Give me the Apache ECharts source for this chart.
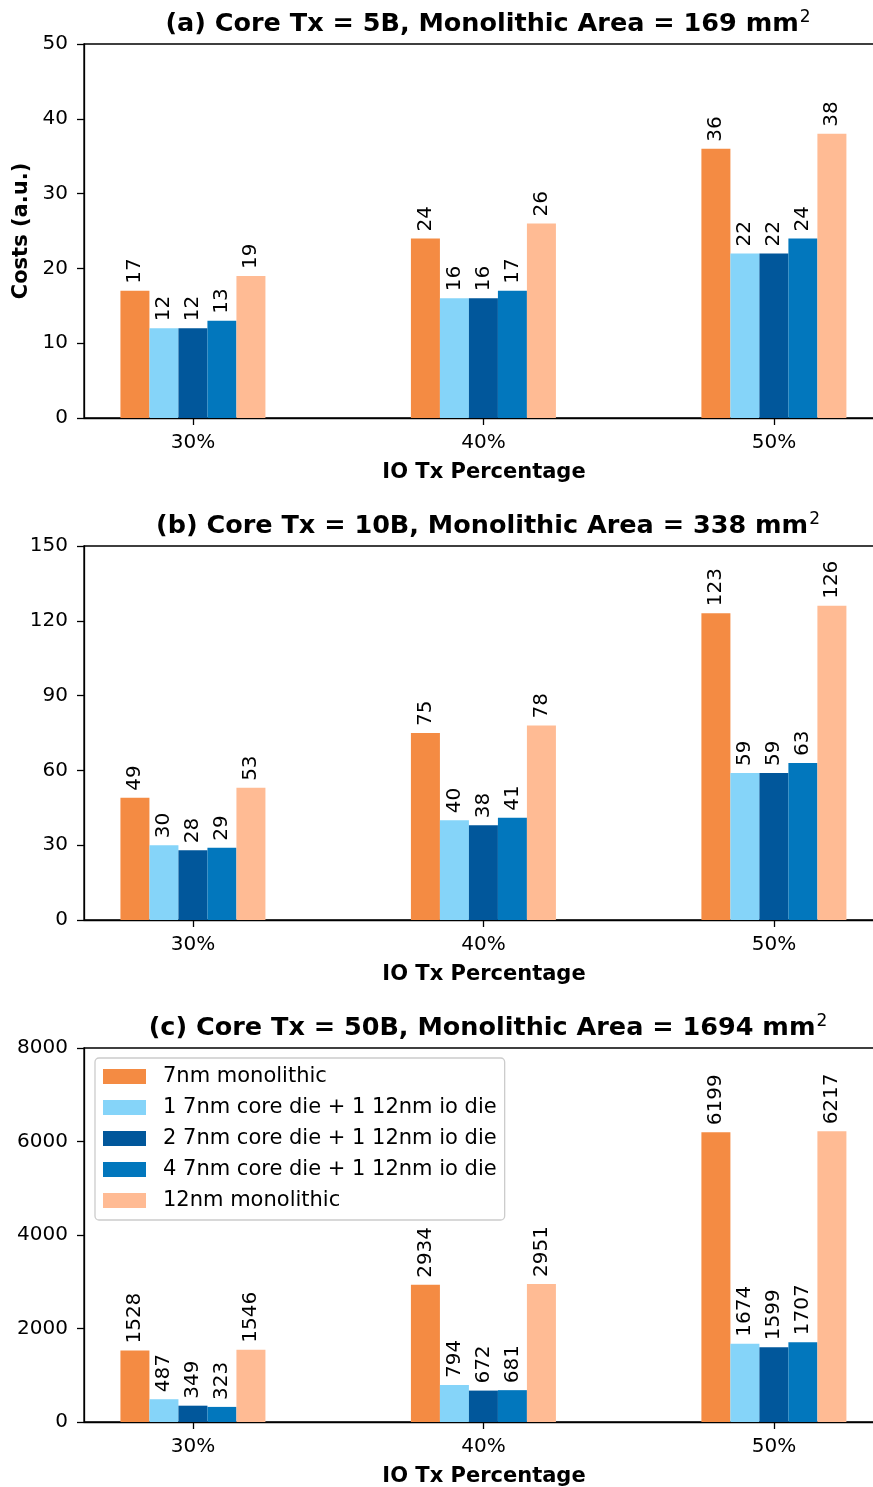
<!DOCTYPE html>
<html>
<head>
<meta charset="utf-8">
<script src="https://cdn.jsdelivr.net/npm/echarts@6/dist/echarts.min.js"></script>
<style>
  html, body { margin: 0; padding: 0; background: #fff; }
  #chart { width: 873px; height: 1487px; }
</style>
</head>
<body>
<div id="chart"></div>
<script>
// IO transistor share on the x axis
const categories = ['30%', '40%', '50%'];

// Design options, one bar per option in each group
const seriesNames = [
  '7nm monolithic',
  '1 7nm core die + 1 12nm io die',
  '2 7nm core die + 1 12nm io die',
  '4 7nm core die + 1 12nm io die',
  '12nm monolithic'
];
const seriesColors = ['#F48B43', '#85D4F9', '#01579B', '#0277BD', '#FFBB94'];

// (a) Core Tx = 5B
const costsA = [
  [17, 24, 36],
  [12, 16, 22],
  [12, 16, 22],
  [13, 17, 24],
  [19, 26, 38]
];
// (b) Core Tx = 10B
const costsB = [
  [49, 75, 123],
  [30, 40, 59],
  [28, 38, 59],
  [29, 41, 63],
  [53, 78, 126]
];
// (c) Core Tx = 50B
const costsC = [
  [1528, 2934, 6199],
  [487, 794, 1674],
  [349, 672, 1599],
  [323, 681, 1707],
  [1546, 2951, 6217]
];

const panelTitles = [
  ['(a) Core Tx = 5B, Monolithic Area = 169 mm', '2'],
  ['(b) Core Tx = 10B, Monolithic Area = 338 mm', '2'],
  ['(c) Core Tx = 50B, Monolithic Area = 1694 mm', '2']
];
const yMax = [50, 150, 8000];
const yStep = [10, 30, 2000];

const FONT = 'DejaVu Sans';
const panelCosts = [costsA, costsB, costsC];
const gridTops = [44, 546, 1048];
const gridHeight = 374;
const plotLeft = 84;
const plotWidth = 800;   // the right-hand edge of each frame runs past the page

const grids = [], xAxes = [], yAxes = [], series = [], titles = [];

panelCosts.forEach((costs, p) => {
  grids.push({
    left: plotLeft, width: plotWidth, top: gridTops[p], height: gridHeight,
    outerBoundsMode: 'none',
    show: true, borderColor: '#000', borderWidth: 1.3, backgroundColor: 'transparent'
  });
  xAxes.push({
    gridIndex: p,
    type: 'value',
    min: -0.375,
    max: 2.379,
    name: 'IO Tx Percentage',
    nameLocation: 'middle',
    nameGap: 44,
    nameTextStyle: { fontFamily: FONT, fontSize: 21, fontWeight: 'bold', color: '#000' },
    axisLine: { show: true, onZero: false, lineStyle: { color: '#000', width: 1.3 } },
    axisTick: { show: true, customValues: [0, 1, 2], length: 7, lineStyle: { color: '#000', width: 1.3 } },
    axisLabel: {
      show: true, customValues: [0, 1, 2], margin: 15,
      fontFamily: FONT, fontSize: 20, color: '#000',
      formatter: v => categories[Math.round(v)]
    },
    splitLine: { show: false }
  });
  yAxes.push({
    gridIndex: p,
    type: 'value',
    min: 0,
    max: yMax[p],
    interval: yStep[p],
    name: p === 0 ? 'Costs (a.u.)' : '',
    nameLocation: 'middle',
    nameGap: 49,
    nameTextStyle: { fontFamily: FONT, fontSize: 21, fontWeight: 'bold', color: '#000' },
    axisLine: { show: true, onZero: false, lineStyle: { color: '#000', width: 1.3 } },
    axisTick: { show: true, length: 7, lineStyle: { color: '#000', width: 1.3 } },
    axisLabel: {
      margin: 16, fontFamily: FONT, fontSize: 20, color: '#000',
      formatter: v => String(v)
    },
    splitLine: { show: false }
  });
  titles.push({
    text: panelTitles[p][0] + '{sup|' + panelTitles[p][1] + '}',
    left: 483,
    textAlign: 'center',
    top: gridTops[p] - 40,
    textStyle: {
      fontFamily: FONT, fontSize: 25.5, fontWeight: 'bold', color: '#000',
      rich: {
        sup: {
          fontFamily: FONT, fontSize: 17, fontWeight: 'normal', color: '#000',
          verticalAlign: 'top', padding: [0, 0, 14, 1]
        }
      }
    }
  });
  costs.forEach((vals, s) => {
    series.push({
      type: 'bar',
      name: seriesNames[s],
      xAxisIndex: p,
      yAxisIndex: p,
      barWidth: 29,
      barGap: '0%',
      itemStyle: { color: seriesColors[s] },
      label: {
        show: true,
        position: 'top',
        rotate: 90,
        align: 'left',
        verticalAlign: 'middle',
        distance: 7,
        fontFamily: FONT,
        fontSize: 20,
        color: '#000',
        formatter: d => String(d.value[1])
      },
      data: vals.map((v, i) => [i, v])
    });
  });
});

const chart = echarts.init(document.getElementById('chart'), null, { renderer: 'canvas' });
chart.setOption({
  animation: false,
  backgroundColor: '#fff',
  title: titles,
  legend: {
    data: seriesNames,
    orient: 'vertical',
    left: 95,
    top: 1058,
    itemWidth: 43,
    itemHeight: 15,
    itemGap: 10,
    icon: 'rect',
    padding: [8, 8, 9, 8],
    backgroundColor: '#fff',
    borderColor: '#ccc',
    borderWidth: 1.3,
    borderRadius: 4,
    textStyle: { fontFamily: FONT, fontSize: 21, color: '#000', lineHeight: 21, padding: [0, 0, 0, 12] },
    selectedMode: false
  },
  grid: grids,
  xAxis: xAxes,
  yAxis: yAxes,
  series: series
});
</script>
</body>
</html>
